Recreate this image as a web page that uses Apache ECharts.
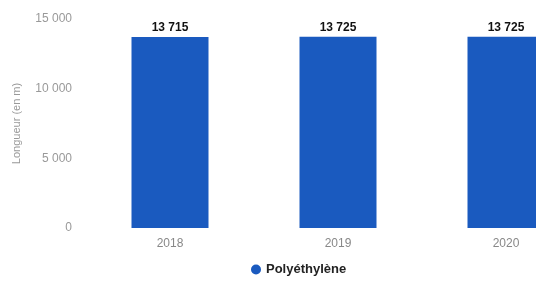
<!DOCTYPE html>
<html lang="fr" style="height: 100%">
<head>
  <meta charset="utf-8">
</head>
<body style="height: 100%; margin: 0; background: #fff; overflow: hidden">
  <div id="container" style="width: 590px; height: 284px"></div>
  <script type="text/javascript" src="https://fastly.jsdelivr.net/npm/echarts@6/dist/echarts.min.js"></script>
  <script type="text/javascript">
    var years = ['2018', '2019', '2020'];
    var polyethylene = [13715, 13725, 13725];
    var yTicks = [0, 5000, 10000, 15000];

    function fmt(n) {
      return String(n).replace(/\B(?=(\d{3})+(?!\d))/g, ' ');
    }

    var dom = document.getElementById('container');
    var myChart = echarts.init(dom, null, { renderer: 'canvas' });

    // the picture is a crop: the plot runs past the right edge of the window
    var option = {
      animation: false,
      grid: { left: 86, right: 0, top: 19, bottom: 56 },
      legend: {
        data: ['Polyéthylène'],
        left: 246,
        top: 258,
        icon: 'circle',
        itemWidth: 10,
        itemHeight: 10,
        itemGap: 6,
        textStyle: { fontFamily: 'Liberation Sans', fontWeight: 'bold', fontSize: 13, color: '#222' }
      },
      xAxis: {
        type: 'category',
        data: years,
        axisLine: { show: false },
        axisTick: { show: false },
        axisLabel: { color: '#888', fontSize: 12, fontFamily: 'Liberation Sans', margin: 10 }
      },
      yAxis: {
        type: 'value',
        min: yTicks[0],
        max: yTicks[yTicks.length - 1],
        interval: 5000,
        name: 'Longueur (en m)',
        nameLocation: 'middle',
        nameRotate: 90,
        nameGap: 64,
        nameTextStyle: { color: '#999', fontSize: 11, fontFamily: 'Liberation Sans' },
        splitLine: { show: false },
        axisLabel: {
          color: '#999', fontSize: 12, fontFamily: 'Liberation Sans', margin: 14,
          formatter: function (v) { return fmt(v); }
        }
      },
      series: [
        {
          name: 'Polyéthylène',
          type: 'bar',
          data: polyethylene,
          barWidth: 77,
          itemStyle: { color: '#1a5abf' },
          label: {
            show: true,
            position: 'top',
            distance: 3,
            color: '#111',
            fontWeight: 'bold',
            fontSize: 12,
            fontFamily: 'Liberation Sans',
            formatter: function (p) { return fmt(p.value); }
          }
        }
      ]
    };

    myChart.setOption(option);
    window.addEventListener('resize', myChart.resize);
  </script>
</body>
</html>
